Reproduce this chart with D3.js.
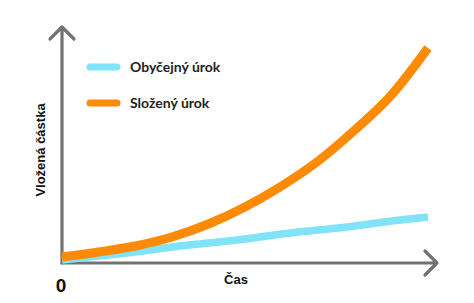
<!DOCTYPE html>
<html>
<head>
<meta charset="utf-8">
<script src="https://cdn.jsdelivr.net/npm/d3@7"></script>
<style>
  body { margin: 0; background: #fff; }
  .axis-label { font-family: "Liberation Sans", Arial, sans-serif; font-weight: bold; fill: #111; }
  .legend-label { font-family: Lato, sans-serif; font-weight: bold; fill: #222; }
</style>
</head>
<body>
<div id="chart"></div>
<script>
// time steps (arbitrary units)
const years = [0, 1, 2, 3, 4, 5, 6, 7, 8, 9, 10];
// simple interest
const simple = [3, 7, 11, 16, 20, 24, 29, 33, 37, 42, 46];
// compound interest
const compound = [6, 11, 17, 26, 39, 56, 77, 102, 133, 168, 215];

const seriesNames = ["Obyčejný úrok", "Složený úrok"];
const seriesColors = ["#80e3f8", "#ff8a05"];

const width = 474, height = 303;
const origin = {x: 62, y: 263};

const svg = d3.select("#chart").append("svg")
    .attr("width", width)
    .attr("height", height);

const x = d3.scaleLinear().domain([0, 10]).range([origin.x, 428]);
const y = d3.scaleLinear().domain([0, 215]).range([origin.y, 48]);

const axisColor = "#727272";

// axes with arrow heads
const axes = svg.append("g")
    .attr("fill", "none")
    .attr("stroke", axisColor)
    .attr("stroke-width", 3.2)
    .attr("stroke-linecap", "round")
    .attr("stroke-linejoin", "round");

axes.append("path")
    .attr("d", `M${origin.x},${origin.y} L${origin.x},27 M50,39 L${origin.x},27 L74,39`);
axes.append("path")
    .attr("d", `M${origin.x},${origin.y} L437,${origin.y} M425,251 L437,${origin.y} L425,275`);

const line = d3.line()
    .x((d, i) => x(years[i]))
    .y(d => y(d))
    .curve(d3.curveMonotoneX);

svg.append("path")
    .datum(simple)
    .attr("d", line)
    .attr("fill", "none")
    .attr("stroke", seriesColors[0])
    .attr("stroke-width", 7.5);

svg.append("path")
    .datum(compound)
    .attr("d", line)
    .attr("fill", "none")
    .attr("stroke", seriesColors[1])
    .attr("stroke-width", 9);

// legend
const legend = svg.selectAll("g.legend")
    .data(seriesNames)
    .enter().append("g")
    .attr("class", "legend")
    .attr("transform", (d, i) => `translate(0, ${67 + i * 36})`);

legend.append("line")
    .attr("x1", 90)
    .attr("x2", 117)
    .attr("stroke", (d, i) => seriesColors[i])
    .attr("stroke-width", 7)
    .attr("stroke-linecap", "round");

legend.append("text")
    .attr("class", "legend-label")
    .attr("x", 130)
    .attr("y", 5)
    .style("font-size", "14px")
    .text(d => d);

// axis labels
svg.append("text")
    .attr("class", "axis-label")
    .attr("transform", "translate(45,150) rotate(-90)")
    .attr("text-anchor", "middle")
    .style("font-size", "13px")
    .text("Vložená částka");

svg.append("text")
    .attr("class", "axis-label")
    .attr("x", 236)
    .attr("y", 284)
    .attr("text-anchor", "middle")
    .style("font-size", "13px")
    .text("Čas");

svg.append("text")
    .attr("class", "axis-label")
    .attr("x", 61)
    .attr("y", 292)
    .attr("text-anchor", "middle")
    .style("font-size", "19px")
    .text("0");
</script>
</body>
</html>
